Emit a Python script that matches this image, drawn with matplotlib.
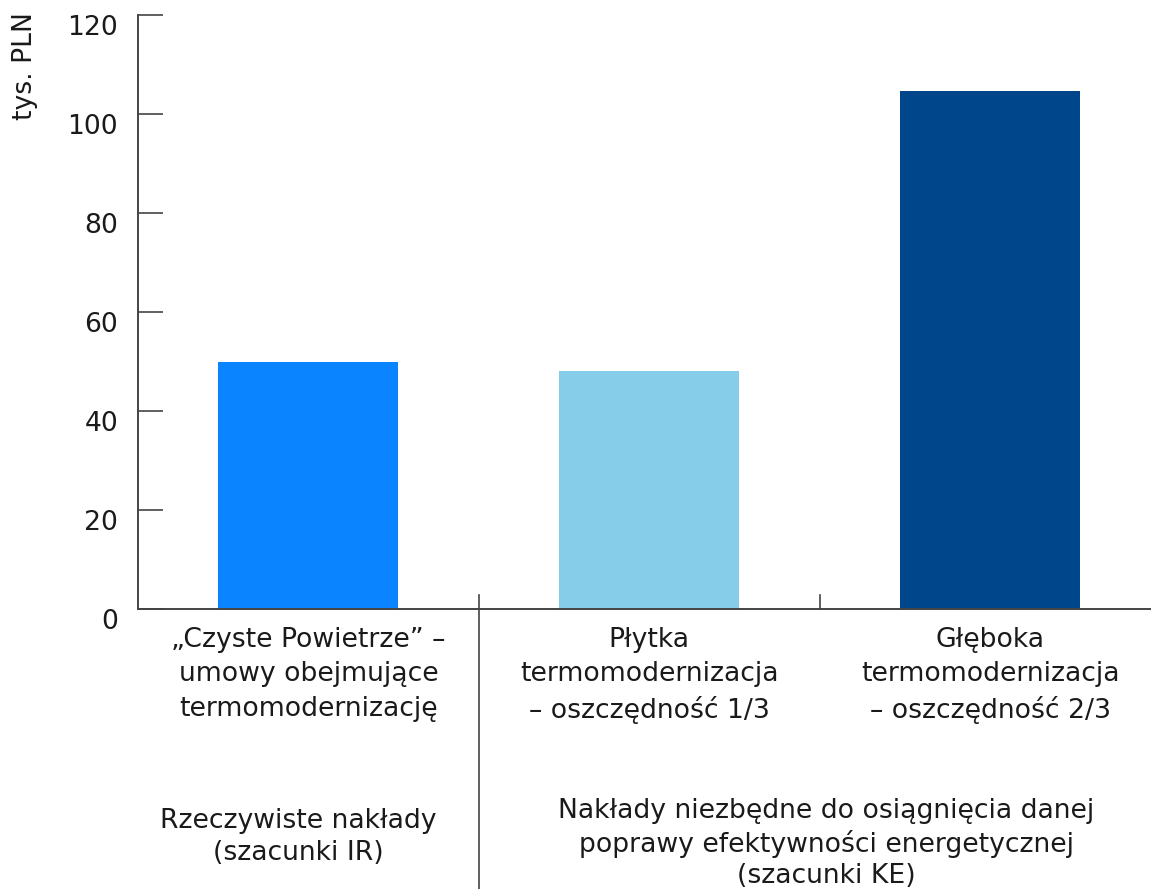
import matplotlib
matplotlib.use("Agg")
import matplotlib.pyplot as plt
import matplotlib.transforms as mtransforms

plt.rcParams['font.family'] = ['DejaVu Sans']

categories = [
    "„Czyste Powietrze” –\numowy obejmujące\ntermomodernizację",
    "Płytka\ntermomodernizacja\n– oszczędność 1/3",
    "Głęboka\ntermomodernizacja\n– oszczędność 2/3",
]
values = [50, 48, 104.6]
colors = ["#0a84ff", "#85cde8", "#00468a"]
yticks = [0, 20, 40, 60, 80, 100, 120]
group_labels = [
    "Rzeczywiste nakłady\n(szacunki IR)",
    "Nakłady niezbędne do osiągnięcia danej\npoprawy efektywności energetycznej\n(szacunki KE)",
]
ylabel = "tys. PLN"

W, H = 1151, 889
fig = plt.figure(figsize=(W / 100, H / 100), dpi=100)
ax = fig.add_axes([138 / W, 1 - 609 / H, (W - 138) / W, (609 - 15) / H])

x = list(range(len(values)))
ax.bar(x, values, width=0.528, color=colors, zorder=1)
ax.set_xlim(-0.5, 2.472)
ax.set_ylim(0, 120)

for s in ["top", "right"]:
    ax.spines[s].set_visible(False)
axis_color = "#444444"
for s in ["left", "bottom"]:
    ax.spines[s].set_color(axis_color)
    ax.spines[s].set_linewidth(1.4)
    ax.spines[s].set_zorder(3)

fs = 19.2
txtc = "#1a1a1a"

ax.set_yticks(yticks)
ax.set_yticklabels([str(t) for t in yticks])
ax.tick_params(axis="y", direction="in", length=18, width=1.2, color=axis_color,
               labelsize=fs, labelcolor=txtc, pad=14.4)
offset = mtransforms.ScaledTranslation(0, -10 / 100, fig.dpi_scale_trans)
for lbl in ax.get_yticklabels():
    lbl.set_transform(lbl.get_transform() + offset)
ax.set_xticks([])

blend = mtransforms.blended_transform_factory(ax.transData, ax.transAxes)
for xi, lab in zip(x, categories):
    ax.text(xi, -0.03, lab, transform=blend, ha="center", va="top",
            fontsize=fs, color=txtc, linespacing=1.42)

# separators
ax.plot([0.5, 0.5], [0.0236, -0.48], transform=blend, color=axis_color,
        lw=1.2, clip_on=False)
ax.plot([1.5, 1.5], [0.0236, 0], transform=blend, color=axis_color,
        lw=1.2, clip_on=False)

ax.text(-0.03, -0.335, group_labels[0], transform=blend, ha="center", va="top",
        fontsize=fs, color=txtc, linespacing=1.32)
ax.text(1.52, -0.318, group_labels[1], transform=blend, ha="center", va="top",
        fontsize=fs, color=txtc, linespacing=1.26)

fig.text(25 / W, 1 - 66 / H, ylabel, rotation=90, ha="center", va="center",
         fontsize=fs, color=txtc)

fig.savefig("out.png", dpi=100)
